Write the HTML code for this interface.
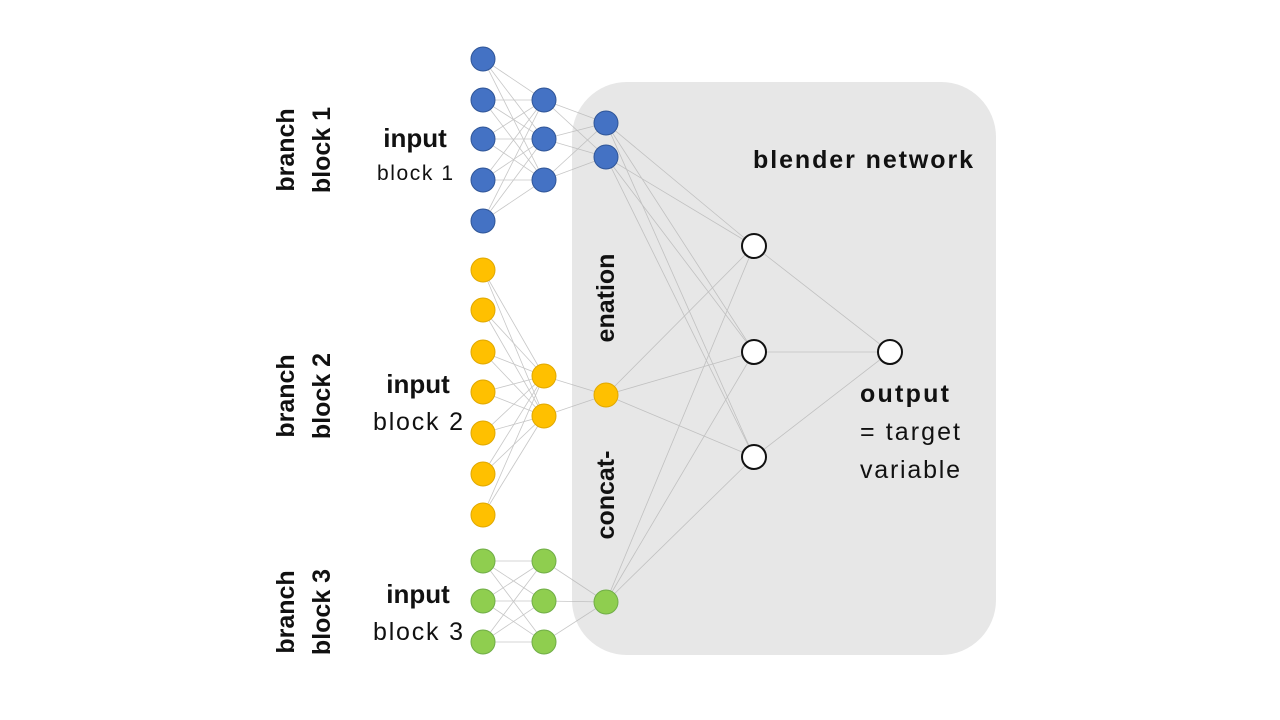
<!DOCTYPE html>
<html><head><meta charset="utf-8"><style>
html,body{margin:0;padding:0;background:#fff;width:1280px;height:720px;overflow:hidden}
svg{display:block}
text{font-family:"Liberation Sans",sans-serif;fill:#111}
.b{font-weight:bold}
</style></head><body>
<svg id="s" width="1280" height="720" viewBox="0 0 1280 720" xmlns="http://www.w3.org/2000/svg">
<rect x="572" y="82" width="424" height="573" rx="55" fill="#e7e7e7"/>
<g id="lines" stroke="#b4b4b4" stroke-width="0.8" opacity="0.75"></g>
<g id="nodes"></g>
<text class="b" font-size="25" transform="translate(294,150) rotate(-90)" text-anchor="middle">branch</text>
<text class="b" font-size="25" transform="translate(330,150) rotate(-90)" text-anchor="middle">block 1</text>
<text class="b" font-size="25" transform="translate(294,396) rotate(-90)" text-anchor="middle">branch</text>
<text class="b" font-size="25" transform="translate(330,396) rotate(-90)" text-anchor="middle">block 2</text>
<text class="b" font-size="25" transform="translate(294,612) rotate(-90)" text-anchor="middle">branch</text>
<text class="b" font-size="25" transform="translate(330,612) rotate(-90)" text-anchor="middle">block 3</text>
<text class="b" font-size="26" x="415" y="147" text-anchor="middle">input</text>
<text font-size="21" x="415" y="180" text-anchor="middle" textLength="76">block 1</text>
<text class="b" font-size="26" x="418" y="393" text-anchor="middle">input</text>
<text font-size="25" x="418" y="430" text-anchor="middle" textLength="90">block 2</text>
<text class="b" font-size="26" x="418" y="603" text-anchor="middle">input</text>
<text font-size="25" x="418" y="640" text-anchor="middle" textLength="90">block 3</text>
<text class="b" font-size="25" transform="translate(614,298) rotate(-90)" text-anchor="middle">enation</text>
<text class="b" font-size="25" transform="translate(614,495) rotate(-90)" text-anchor="middle">concat-</text>
<text class="b" font-size="25" x="753" y="168" textLength="220">blender network</text>
<text class="b" font-size="25" x="860" y="402" textLength="89">output</text>
<text font-size="25" x="860" y="440" textLength="100">= target</text>
<text font-size="25" x="860" y="478" textLength="100">variable</text>
</svg>
<script>
var NS="http://www.w3.org/2000/svg";
var L=document.getElementById('lines'),N=document.getElementById('nodes');
function ln(a,b){var e=document.createElementNS(NS,'line');e.setAttribute('x1',a[0]);e.setAttribute('y1',a[1]);e.setAttribute('x2',b[0]);e.setAttribute('y2',b[1]);L.appendChild(e);}
function nd(p,f,s){var c=document.createElementNS(NS,'circle');c.setAttribute('cx',p[0]);c.setAttribute('cy',p[1]);c.setAttribute('r',12);c.setAttribute('fill',f);c.setAttribute('stroke',s);c.setAttribute('stroke-width',f=='#fff'?2:1);N.appendChild(c);}
function col(x,ys){return ys.map(function(y){return[x,y]});}
function full(A,B){A.forEach(function(a){B.forEach(function(b){ln(a,b)})});}
var bi=col(483,[59,100,139,180,221]),bh=col(544,[100,139,180]),bc=col(606,[123,157]);
var yi=col(483,[270,310,352,392,433,474,515]),yh=col(544,[376,416]),yc=col(606,[395]);
var gi=col(483,[561,601,642]),gh=col(544,[561,601,642]),gc=col(606,[602]);
var w=col(754,[246,352,457]),o=[[890,352]];
full(bi,bh);full(bh,bc);full(yi,yh);full(yh,yc);full(gi,gh);full(gh,gc);
full(bc.concat(yc,gc),w);full(w,o);
bi.concat(bh,bc).forEach(function(p){nd(p,'#4472c4','#2f5597')});
yi.concat(yh,yc).forEach(function(p){nd(p,'#ffc000','#e0a800')});
gi.concat(gh,gc).forEach(function(p){nd(p,'#8fce4f','#70ad47')});
w.concat(o).forEach(function(p){nd(p,'#fff','#111')});
</script>
</body></html>
